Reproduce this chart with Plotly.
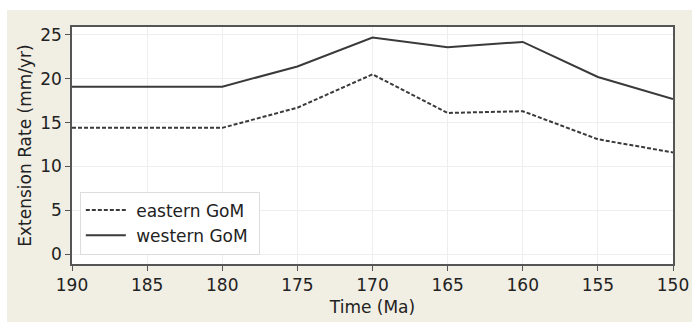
import plotly.graph_objects as go

time_ma = [190, 180, 175, 170, 165, 160, 155, 150]
eastern = [14.4, 14.4, 16.7, 20.5, 16.1, 16.3, 13.1, 11.6]
western = [19.1, 19.1, 21.4, 24.7, 23.6, 24.2, 20.2, 17.7]
series_names = ["eastern GoM", "western GoM"]
x_ticks = [190, 185, 180, 175, 170, 165, 160, 155, 150]
y_ticks = [0, 5, 10, 15, 20, 25]

W, H = 692, 322
L, R, T, B = 72, 19, 27, 58
pw, ph = W - L - R, H - T - B

fig = go.Figure()
fig.add_trace(go.Scatter(x=time_ma, y=eastern, mode="lines", name="\u00a0" + series_names[0] + "\u00a0",
                         line=dict(color="#3a3a3a", width=2, dash="4px,2px")))
fig.add_trace(go.Scatter(x=time_ma, y=western, mode="lines", name="\u00a0" + series_names[1] + "\u00a0",
                         line=dict(color="#3a3a3a", width=2)))

# white strips at top and left (outside the beige frame)
fig.add_shape(type="rect", xref="paper", yref="paper", layer="below",
              x0=-L / pw - 0.01, x1=1 + R / pw + 0.01, y0=1 + (T - 10) / ph, y1=1 + T / ph + 0.01,
              fillcolor="white", line_width=0)
fig.add_shape(type="rect", xref="paper", yref="paper", layer="below",
              x0=-L / pw - 0.01, x1=-(L - 7) / pw, y0=-B / ph - 0.01, y1=1 + T / ph + 0.01,
              fillcolor="white", line_width=0)

axis_common = dict(showline=True, linecolor="#555555", linewidth=1.5, mirror=True,
                   ticks="outside", ticklen=5, tickcolor="#555555", tickwidth=1,
                   showgrid=True, gridcolor="#eeeeee", gridwidth=1, zeroline=False,
                   automargin=False,
                   tickfont=dict(size=17, color="#222222"))

fig.update_layout(
    width=W, height=H,
    margin=dict(l=L, r=R, t=T, b=B, autoexpand=False),
    paper_bgcolor="#f1eee3",
    plot_bgcolor="white",
    font=dict(family="DejaVu Sans", size=17, color="#222222"),
    xaxis=dict(range=[190, 150], tickvals=x_ticks,
               title=dict(text="Time (Ma)", font=dict(size=17), standoff=7), **axis_common),
    yaxis=dict(range=[-1.12, 25.9], tickvals=y_ticks,
               title=dict(text="Extension Rate (mm/yr)", font=dict(size=17), standoff=4), **axis_common),
    legend=dict(x=0.013, y=0.04, xanchor="left", yanchor="bottom",
                bgcolor="white", bordercolor="#dddddd", borderwidth=1,
                font=dict(size=17, color="#222222"), itemwidth=40),
    showlegend=True,
)

fig.write_html("out.html")
